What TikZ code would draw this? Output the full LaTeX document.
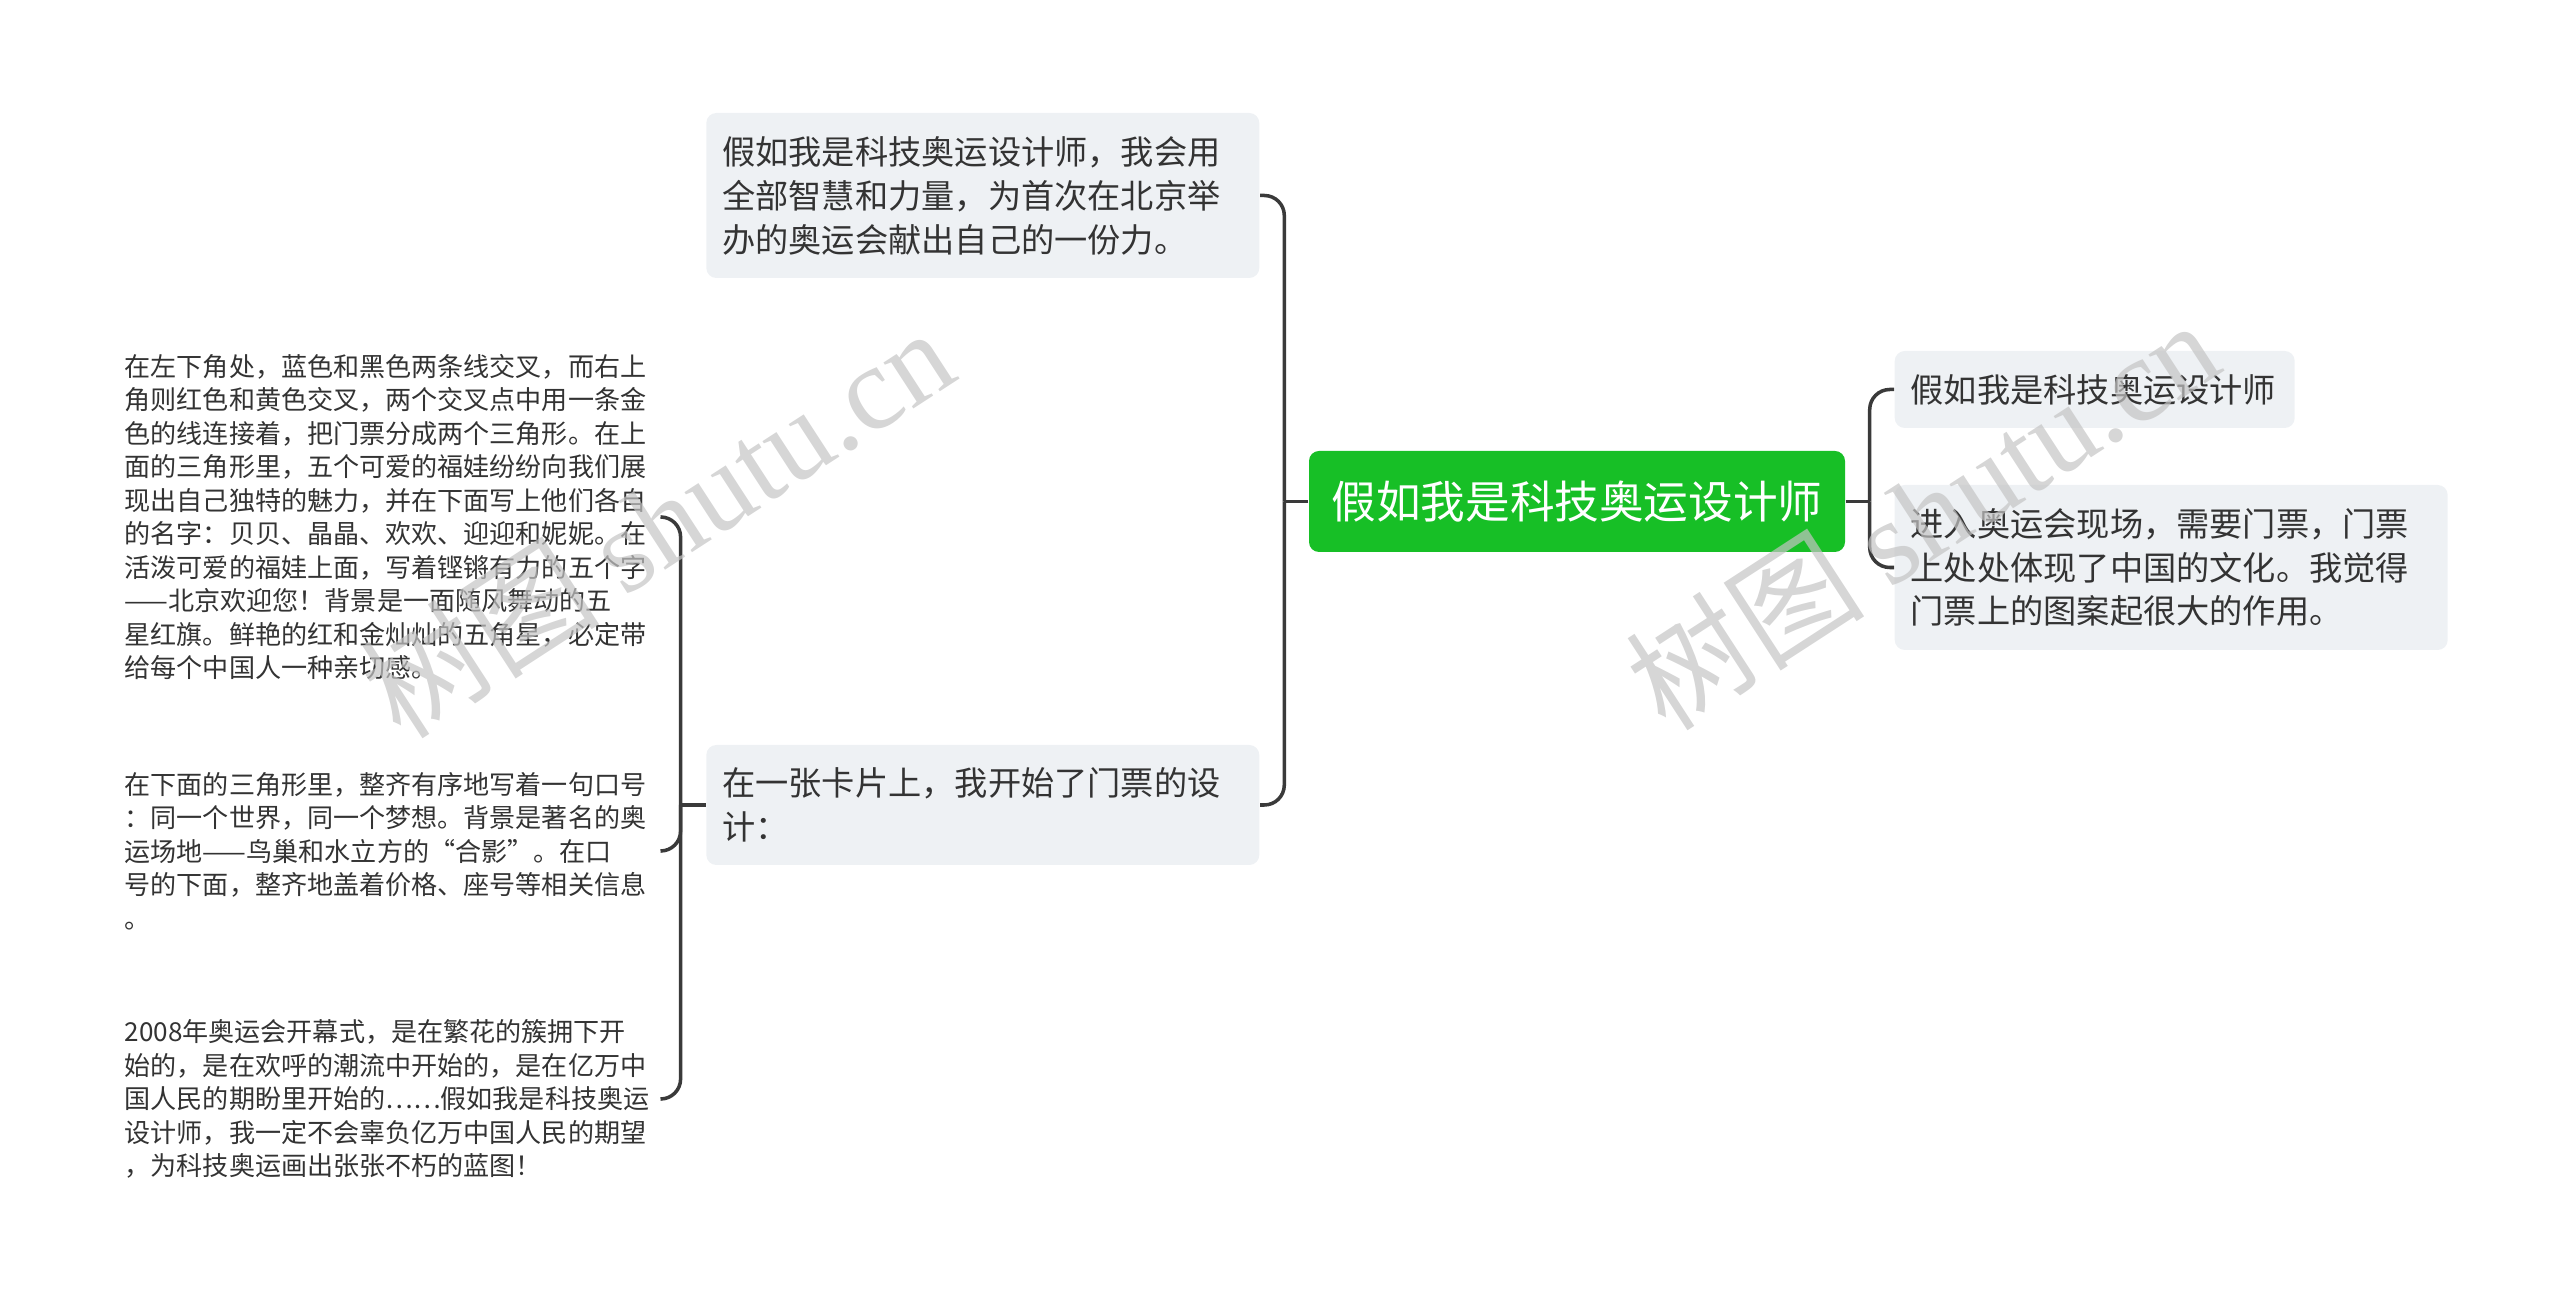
\documentclass[tikz,border=0pt]{standalone}
\usepackage{fontspec}
\setmainfont{Noto Sans CJK SC}
\newfontfamily\wmlatin{Liberation Serif}
\usepackage{xcolor}
\usetikzlibrary{positioning,calc}
\definecolor{rootgreen}{HTML}{17BF26}
\definecolor{boxgray}{HTML}{EEF1F4}
\definecolor{inkgray}{HTML}{333333}
\definecolor{linkgray}{HTML}{3A3A3A}
\definecolor{wmgray}{HTML}{C4C4C4}

\begin{document}
\begin{tikzpicture}[
    topic/.style={fill=rootgreen, rounded corners=0.1cm, text=white, inner sep=0,
        minimum width=5.36cm, minimum height=1.01cm, font=\fontsize{12.7}{15}\selectfont},
    subtopic/.style={fill=boxgray, rounded corners=0.1cm, text=inkgray, inner xsep=0.16cm, inner ysep=0,
        align=left, font=\fontsize{9.45}{12.5}\selectfont},
    leaf/.style={text=inkgray, inner sep=0, text width=5.36cm, align=left,
        font=\fontsize{7.42}{9.53}\selectfont},
    link/.style={draw=linkgray, line width=1pt, rounded corners=0.2cm},
    watermark/.style={text=wmgray, opacity=0.7, font=\fontsize{34}{36}\selectfont}
]
    \useasboundingbox (0,0) rectangle (25.6,-13.06);
    % Root
    \node[topic] (root) at (15.77,-5.015) {假如我是科技奥运设计师};
    % Right branch
    \node[subtopic, anchor=west, text width=3.68cm, minimum height=0.77cm] (rt) at (18.94,-3.895) {假如我是科技奥运设计师};
    \node[subtopic, anchor=west, text width=5.21cm, minimum height=1.65cm] (rb) at (18.94,-5.675)
        {进入奥运会现场，需要门票，门票\\上处处体现了中国的文化。我觉得\\门票上的图案起很大的作用。};
    % Left branch
    \node[subtopic, anchor=east, text width=5.21cm, minimum height=1.65cm] (tl) at (12.60,-1.955)
        {假如我是科技奥运设计师，我会用\\全部智慧和力量，为首次在北京举\\办的奥运会献出自己的一份力。};
    \node[subtopic, anchor=east, text width=5.21cm, minimum height=1.20cm] (ml) at (12.60,-8.05)
        {在一张卡片上，我开始了门票的设\\计：};
    % Leaves
    \node[leaf, anchor=west] (leafA) at (1.24,-5.17)
        {在左下角处，蓝色和黑色两条线交叉，而右上\\角则红色和黄色交叉，两个交叉点中用一条金\\色的线连接着，把门票分成两个三角形。在上\\面的三角形里，五个可爱的福娃纷纷向我们展\\现出自己独特的魅力，并在下面写上他们各自\\的名字：贝贝、晶晶、欢欢、迎迎和妮妮。在\\活泼可爱的福娃上面，写着铿锵有力的五个字\\——北京欢迎您！背景是一面随风舞动的五\\星红旗。鲜艳的红和金灿灿的五角星，必定带\\给每个中国人一种亲切感。};
    \node[leaf, anchor=west] (leafB) at (1.24,-8.51)
        {在下面的三角形里，整齐有序地写着一句口号\\：同一个世界，同一个梦想。背景是著名的奥\\运场地——鸟巢和水立方的“合影”。在口\\号的下面，整齐地盖着价格、座号等相关信息\\。};
    \node[leaf, anchor=west] (leafC) at (1.24,-10.99)
        {2008年奥运会开幕式，是在繁花的簇拥下开\\始的，是在欢呼的潮流中开始的，是在亿万中\\国人民的期盼里开始的……假如我是科技奥运\\设计师，我一定不会辜负亿万中国人民的期望\\，为科技奥运画出张张不朽的蓝图！};
    % Connectors
    \draw[link] (root.east) -- ++(0.24,0) coordinate (rj);
    \draw[link] (rj) |- (rt.west);
    \draw[link] (rj) |- (rb.west);
    \draw[link] (root.west) -- ++(-0.24,0) coordinate (lj);
    \draw[link] (lj) |- (tl.east);
    \draw[link] (lj) |- (ml.east);
    \draw[link] (ml.west) -- ++(-0.25,0) coordinate (mj);
    \draw[link] (mj) |- (leafA.east);
    \draw[link] (mj) |- (leafB.east);
    \draw[link] (mj) |- (leafC.east);
    % Watermarks
    \node[watermark, rotate=33] (wmL) at (6.57,-5.22) {树图 {\wmlatin shutu.cn}};
    \node[watermark, rotate=33] (wmR) at (19.22,-5.14) {树图 {\wmlatin shutu.cn}};
\end{tikzpicture}
\end{document}
